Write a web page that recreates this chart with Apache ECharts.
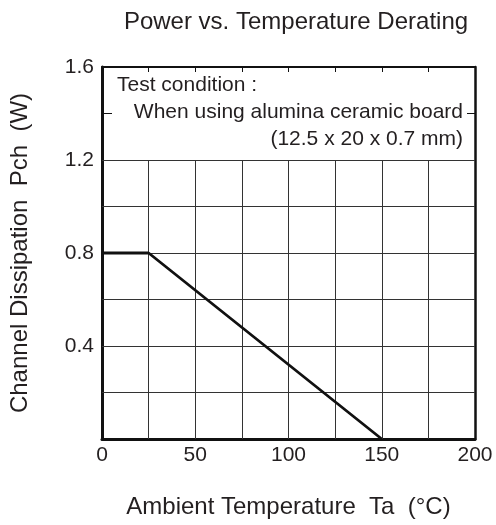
<!DOCTYPE html>
<html><head><meta charset="utf-8">
<script src="https://cdn.jsdelivr.net/npm/echarts@6/dist/echarts.min.js"></script>
<style>html,body{margin:0;padding:0;background:#fff}#c{width:496px;height:525px}</style>
</head><body><div id="c"></div>
<script>
const temps = [0, 25, 150];
const power = [0.8, 0.8, 0];
const xTicks = [0, 25, 50, 75, 100, 125, 150, 175, 200];
const yTicks = [0, 0.2, 0.4, 0.6, 0.8, 1.0, 1.2, 1.4, 1.6];
const xLabels = [0, 50, 100, 150, 200];
const yLabels = [0.4, 0.8, 1.2, 1.6];
const boxBottom = 1.2;
const titleText = 'Power vs. Temperature Derating';
const xName = 'Ambient Temperature  Ta  (\u00B0C)';
const yName = 'Channel Dissipation  Pch  (W)';
const noteLines = ['Test condition :', 'When using alumina ceramic board', '(12.5 x 20 x 0.7 mm)'];

const FONT = '"Liberation Sans", Arial, sans-serif';
const TXT = '#231f20';
const chart = echarts.init(document.getElementById('c'), null, {renderer: 'canvas'});

const gridLines = [];
xTicks.slice(1, -1).forEach(x => gridLines.push([{coord: [x, 0]}, {coord: [x, boxBottom]}]));
yTicks.slice(1).filter(y => y <= boxBottom + 1e-9).forEach(y => gridLines.push([{coord: [0, y]}, {coord: [200, y]}]));

function axisBase(tickLen, lineW) {
  return {
    axisLine: {show: true, onZero: false, lineStyle: {color: '#111', width: lineW}},
    axisTick: {show: true, inside: true, length: tickLen, lineStyle: {color: '#111', width: 1}},
    splitLine: {show: false}
  };
}

chart.setOption({
  animation: false,
  title: {text: titleText, left: 291, top: 5, textAlign: 'center',
    textStyle: {fontFamily: FONT, fontSize: 24, fontWeight: 'normal', color: TXT}},
  grid: {left: 102, right: 21, top: 67, bottom: 86},
  xAxis: [
    Object.assign(axisBase(5, 3), {type: 'value', position: 'bottom', min: 0, max: 200, interval: 25,
      name: xName, nameLocation: 'middle', nameGap: 56,
      nameTextStyle: {fontFamily: FONT, fontSize: 24, color: TXT},
      axisLabel: {margin: 6, fontFamily: FONT, fontSize: 21, color: TXT,
        formatter: v => xLabels.includes(v) ? String(v) : ''}}),
    Object.assign(axisBase(5, 2), {type: 'value', position: 'top', min: 0, max: 200, interval: 25,
      axisLabel: {show: false}})
  ],
  yAxis: [
    Object.assign(axisBase(10, 3), {type: 'value', position: 'left', min: 0, max: 1.6, interval: 0.2,
      name: yName, nameLocation: 'middle', nameGap: 70, nameRotate: 90,
      nameTextStyle: {fontFamily: FONT, fontSize: 24, color: TXT},
      axisLabel: {margin: 8, fontFamily: FONT, fontSize: 21, color: TXT,
        formatter: v => yLabels.some(l => Math.abs(l - v) < 1e-9) ? v.toFixed(1) : ''}}),
    Object.assign(axisBase(8, 2.5), {type: 'value', position: 'right', min: 0, max: 1.6, interval: 0.2,
      axisLabel: {show: false}})
  ],
  series: [{
    type: 'line',
    data: temps.map((t, i) => [t, power[i]]),
    showSymbol: false,
    symbol: 'none',
    lineStyle: {color: '#111', width: 2.8},
    z: 3,
    markLine: {
      silent: true, symbol: 'none', animation: false,
      label: {show: false},
      lineStyle: {color: '#333', width: 1, type: 'solid'},
      data: gridLines,
      z: 1
    }
  }],
  graphic: [
    {type: 'text', left: 117, top: 75, style: {text: noteLines[0], font: '21px ' + FONT, fill: TXT}},
    {type: 'text', right: 33, top: 102, style: {text: noteLines[1], font: '21px ' + FONT, fill: TXT}},
    {type: 'text', right: 33, top: 129, style: {text: noteLines[2], font: '21px ' + FONT, fill: TXT}}
  ]
});
</script></body></html>
